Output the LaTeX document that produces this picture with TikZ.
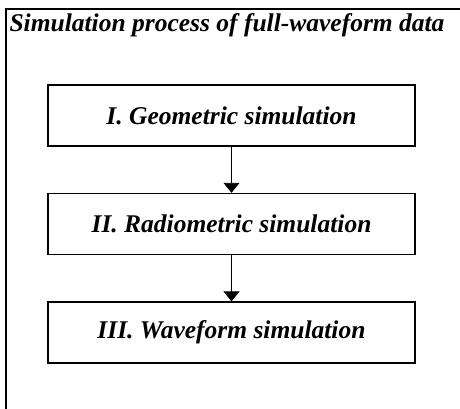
\documentclass[tikz,border=0pt]{standalone}
\usepackage{fontspec}
\setmainfont{Liberation Serif}
\usetikzlibrary{arrows.meta,positioning}

\begin{document}
\begin{tikzpicture}[
  x=1pt, y=-1pt,
  >={Triangle[width=16pt,length=10pt]},
  every node/.style={font=\fontsize{25.5}{28}\selectfont\bfseries\itshape},
  stage/.style={draw, line width=1.6pt, minimum width=367pt, minimum height=61pt,
                inner sep=0pt},
  flow/.style={->, line width=0.9pt},
  frame/.style={draw, line width=1.4pt},
]
  \useasboundingbox (0,0) rectangle (460,408);

  % outer frame (cut by the page on the right and at the bottom)
  \draw[frame] (470,9) -- (6,9) -- (6,420);
  \node[anchor=west] (title) at (6,25) {Simulation process of full-waveform data};

  % the three stages
  \node[stage] (geo) at (231.5,115.5) {I. Geometric simulation};
  \node[stage, below=46pt of geo] (rad) {II. Radiometric simulation};
  \node[stage, below=46pt of rad] (wav) {III. Waveform simulation};

  \draw[flow] (geo) -- (rad);
  \draw[flow] (rad) -- (wav);
\end{tikzpicture}
\end{document}
